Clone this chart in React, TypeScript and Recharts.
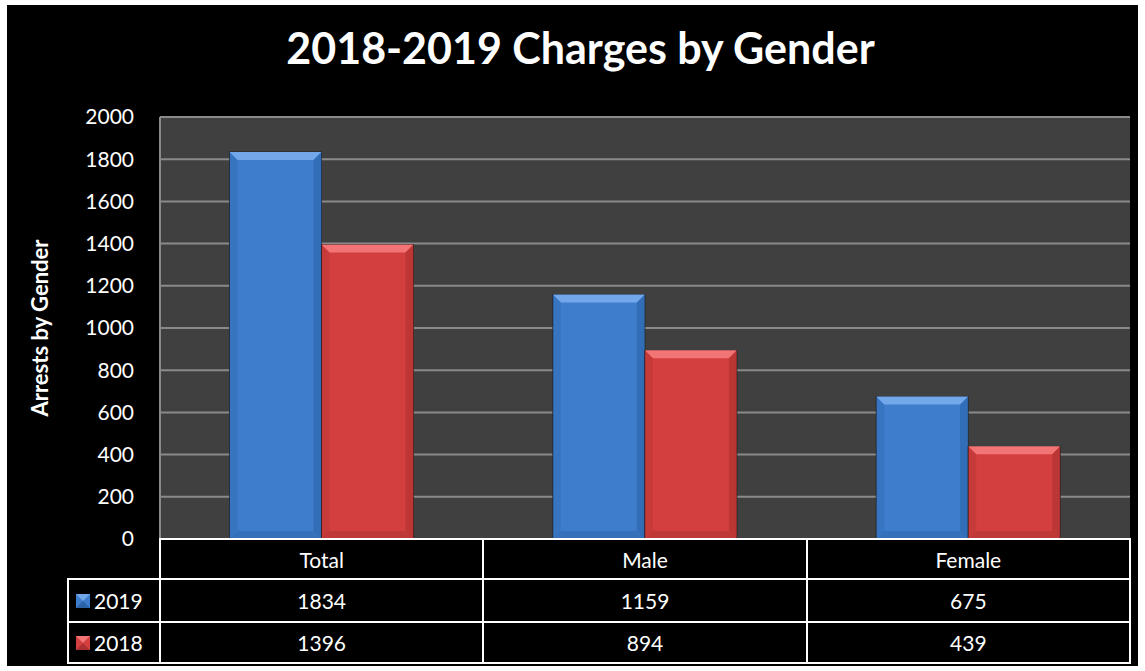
import { BarChart, Bar, XAxis, YAxis, CartesianGrid, Label } from 'recharts';

const categories = ['Total', 'Male', 'Female'];
const values2019 = [1834, 1159, 675];
const values2018 = [1396, 894, 439];
const yTicks = [0, 200, 400, 600, 800, 1000, 1200, 1400, 1600, 1800, 2000];

const SERIES = [
  { key: '2019', values: values2019, main: '#3e7dcc', light: '#72a8ea', dark: '#2c62a8', bottom: '#3570ba' },
  { key: '2018', values: values2018, main: '#d33f3f', light: '#f27474', dark: '#ad3030', bottom: '#bf3838' },
];

const data = categories.map((name, i) => ({
  name,
  '2019': values2019[i],
  '2018': values2018[i],
}));

const W = 1145;
const H = 671;
const PLOT = { left: 160, right: 1130, top: 117, bottom: 539 };
const FONT = 'Lato, "Open Sans", sans-serif';

const makeShape = (s: typeof SERIES[number]) => (props: any) => {
  const { x, y, width, height } = props;
  if (!height || height <= 0) return <g />;
  const b = Math.min(8, width / 4, height / 4);
  return (
    <g>
      <rect x={x} y={y} width={width} height={height} fill={s.main} stroke="#1a1a1a" strokeWidth={0.8} />
      <polygon points={`${x},${y} ${x + width},${y} ${x + width - b},${y + b} ${x + b},${y + b}`} fill={s.light} />
      <polygon points={`${x},${y} ${x + b},${y + b} ${x + b},${y + height - b} ${x},${y + height}`} fill={s.dark} opacity={0.3} />
      <polygon points={`${x + width},${y} ${x + width - b},${y + b} ${x + width - b},${y + height - b} ${x + width},${y + height}`} fill={s.dark} opacity={0.6} />
      <polygon points={`${x},${y + height} ${x + b},${y + height - b} ${x + width - b},${y + height - b} ${x + width},${y + height}`} fill={s.bottom} />
    </g>
  );
};

const LegendKey = ({ s }: { s: typeof SERIES[number] }) => (
  <svg width={14} height={14} style={{ display: 'block' }}>
    <rect x={0} y={0} width={14} height={14} fill={s.main} />
    <polygon points="0,0 14,0 7,7" fill={s.light} />
    <polygon points="0,14 14,14 7,7" fill={s.dark} />
  </svg>
);

export default function App() {
  const colW = (PLOT.right - PLOT.left) / categories.length;
  const rowTop = [PLOT.bottom, 579, 622];
  const rowBottom = 663;
  const legendLeft = 68;
  const line = '#ffffff';

  const cell = (left: number, top: number, width: number, height: number, content: any, key: string) => (
    <div
      key={key}
      style={{
        position: 'absolute',
        left,
        top,
        width,
        height,
        boxSizing: 'border-box',
        border: `2px solid ${line}`,
        marginLeft: -1,
        marginTop: -1,
        display: 'flex',
        alignItems: 'center',
        justifyContent: 'center',
        color: '#fff',
        fontFamily: FONT,
        fontSize: 21,
        background: '#000',
      }}
    >
      {content}
    </div>
  );

  const cells: any[] = [];
  categories.forEach((c, i) => {
    cells.push(cell(PLOT.left + i * colW, rowTop[0], colW + 2, rowTop[1] - rowTop[0] + 2, c, `h${i}`));
  });
  SERIES.forEach((s, r) => {
    const top = rowTop[r + 1];
    const h = (r === 0 ? rowTop[2] : rowBottom) - top + 2;
    cells.push(
      cell(
        legendLeft,
        top,
        PLOT.left - legendLeft + 2,
        h,
        <div style={{ display: 'flex', alignItems: 'center', gap: 4, width: '100%', paddingLeft: 7 }}>
          <LegendKey s={s} />
          <span>{s.key}</span>
        </div>,
        `l${r}`
      )
    );
    s.values.forEach((v, i) => {
      cells.push(cell(PLOT.left + i * colW, top, colW + 2, h, String(v), `c${r}${i}`));
    });
  });

  return (
    <div style={{ position: 'absolute', left: 0, top: 0, width: W, height: H, background: '#fff' }}>
      <div style={{ position: 'absolute', left: 7, top: 5, width: 1131, height: 661, background: '#000' }} />
      <div
        style={{
          position: 'absolute',
          left: 8,
          top: 21,
          width: W,
          textAlign: 'center',
          color: '#fff',
          fontFamily: FONT,
          fontWeight: 700,
          fontSize: 43,
          lineHeight: '54px',
        }}
      >
        2018-2019 Charges by Gender
      </div>
      <div style={{ position: 'absolute', left: 0, top: 0 }}>
        <BarChart
          width={W}
          height={H}
          data={data}
          margin={{ top: PLOT.top, right: W - PLOT.right, bottom: H - PLOT.bottom, left: PLOT.left - 100 }}
          barCategoryGap="21.5%"
          barGap={0}
        >
          <CartesianGrid fill="#404040" stroke="#8a8a8a" strokeWidth={2} vertical={false} />
          <XAxis dataKey="name" hide />
          <YAxis
            width={100}
            domain={[0, 2000]}
            ticks={yTicks}
            interval={0}
            tickLine={false}
            axisLine={{ stroke: '#8a8a8a', strokeWidth: 2 }}
            tickMargin={20}
            tick={{ fill: '#fff', fontSize: 21, fontFamily: FONT }}
          >
            <Label
              value="Arrests by Gender"
              angle={-90}
              position="insideLeft"
              offset={-20}
              style={{ fill: '#fff', fontSize: 22, fontWeight: 700, fontFamily: FONT, textAnchor: 'middle' }}
            />
          </YAxis>
          {SERIES.map((s) => (
            <Bar key={s.key} dataKey={s.key} fill={s.main} shape={makeShape(s)} isAnimationActive={false} />
          ))}
        </BarChart>
      </div>
      {cells}
    </div>
  );
}
